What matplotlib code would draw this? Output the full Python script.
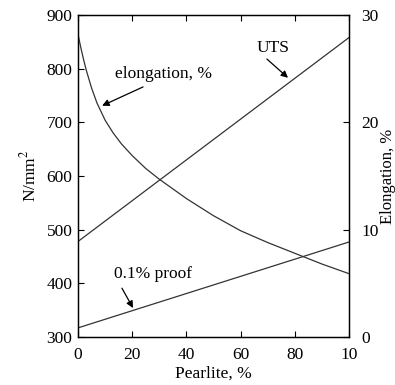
import matplotlib.pyplot as plt

plt.rcParams["font.family"] = ["Liberation Serif", "DejaVu Serif"]
plt.rcParams["mathtext.fontset"] = "stix"

# data
pearlite = [0, 100]
uts = [478, 858]          # N/mm^2
proof = [317, 477]        # N/mm^2

pearlite_el = [0, 1, 2, 3, 5, 7, 10, 13, 16, 20, 25, 30, 35, 40, 50, 60, 70, 80, 90, 100]
elongation = [28.2, 27.0, 25.9, 24.9, 23.2, 21.8, 20.2, 19.0, 18.0, 16.9, 15.7,
              14.7, 13.8, 12.9, 11.3, 9.9, 8.8, 7.8, 6.8, 5.9]

x_ticks = [0, 20, 40, 60, 80, 100]
x_tick_labels = ["0", "20", "40", "60", "80", "10"]

fig = plt.figure(figsize=(3.95, 3.85), dpi=100)
ax = fig.add_axes([0.1975, 0.1247, 0.686, 0.8363])
ax2 = ax.twinx()

lc = "#333333"
fs = 12.5
ax.plot(pearlite, uts, color=lc, lw=0.9)
ax.plot(pearlite, proof, color=lc, lw=0.9)
ax2.plot(pearlite_el, elongation, color=lc, lw=0.9)

ax.set_xlim(0, 100)
ax.set_ylim(300, 900)
ax2.set_ylim(0, 30)

ax.set_xticks(x_ticks)
ax.set_xticklabels(x_tick_labels)
ax.set_yticks(range(300, 901, 100))
ax2.set_yticks([0, 10, 20, 30])

ax.tick_params(axis="both", direction="in", length=4, width=0.8,
               labelsize=fs, top=True, pad=4)
ax.tick_params(axis="x", pad=7)
ax2.tick_params(axis="y", direction="in", length=4, width=0.8,
                labelsize=fs, pad=9)

for a in (ax, ax2):
    for s in a.spines.values():
        s.set_linewidth(0.9)

ax.set_xlabel("Pearlite, %", fontsize=fs, labelpad=2)
ax.set_ylabel("N/mm$^2$", fontsize=fs, labelpad=5)
ax2.set_ylabel("Elongation, %", fontsize=12, labelpad=1)

arrow = dict(arrowstyle="-|>", color="black", lw=0.9,
             mutation_scale=10, shrinkA=0, shrinkB=0)
ax.text(31.4, 790, "elongation, %", fontsize=fs, ha="center", va="center")
ax.annotate("", xy=(8.9, 731), xytext=(24, 766), arrowprops=arrow)
ax.text(72, 839, "UTS", fontsize=fs, ha="center", va="center")
ax.annotate("", xy=(77.5, 783), xytext=(69.7, 818), arrowprops=arrow)
ax.text(27.7, 417, "0.1% proof", fontsize=fs, ha="center", va="center")
ax.annotate("", xy=(20.3, 354), xytext=(16.2, 391), arrowprops=arrow)

fig.savefig("out.png", dpi=100)
